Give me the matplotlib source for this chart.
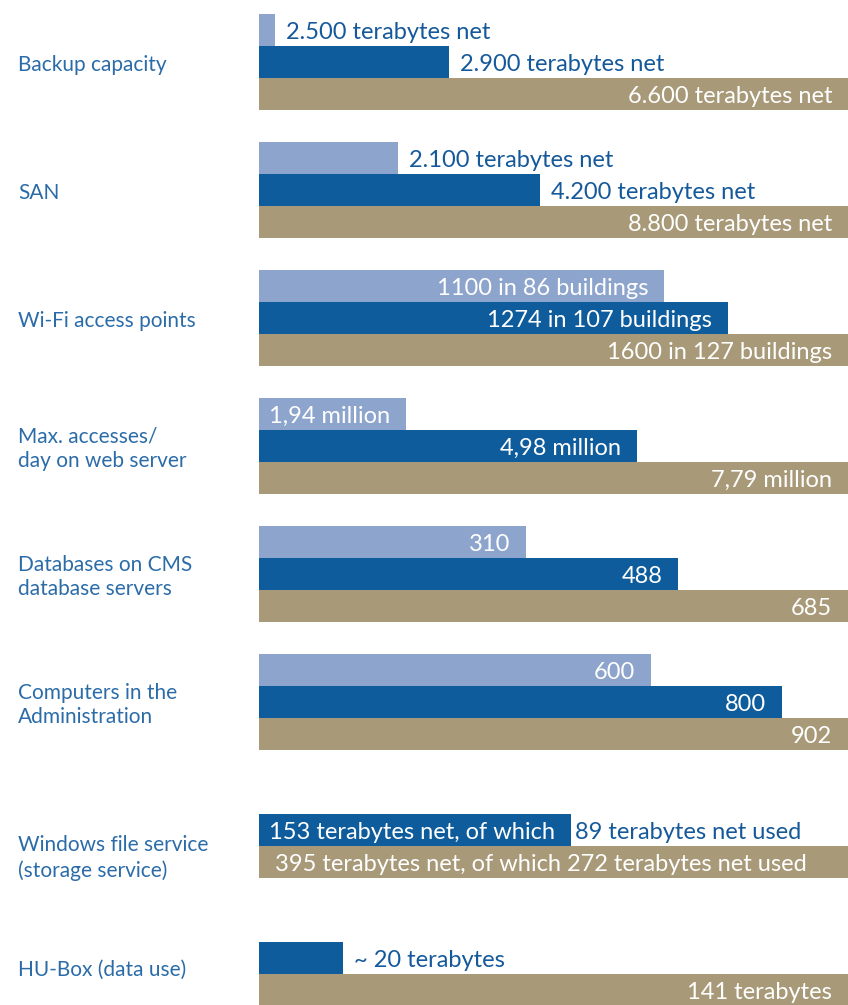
"""Horizontal grouped bars: IT infrastructure figures (three years per row)."""
import matplotlib.pyplot as plt

plt.rcParams['font.family'] = ['Lato', 'DejaVu Sans']

categories = ["Backup capacity", "SAN", "Wi-Fi access points",
              "Max. accesses/\nday on web server", "Databases on CMS\ndatabase servers",
              "Computers in the\nAdministration", "Windows file service\n(storage service)",
              "HU-Box (data use)"]

# bar lengths in % of the longest bar of each row
light_len = [2.7, 23.6, 68.8, 24.9, 45.3, 66.5, None, None]
blue_len = [32.3, 47.7, 79.6, 64.2, 71.2, 88.8, 53.0, 14.2]
tan_len = [100, 100, 100, 100, 100, 100, 100, 100]

light_lab = ["2.500 terabytes net", "2.100 terabytes net", "1100 in 86 buildings",
             "1,94 million", "310", "600", None, None]
blue_lab = ["2.900 terabytes net", "4.200 terabytes net", "1274 in 107 buildings",
            "4,98 million", "488", "800", "153 terabytes net, of which", "~ 20 terabytes"]
tan_lab = ["6.600 terabytes net", "8.800 terabytes net", "1600 in 127 buildings",
           "7,79 million", "685", "902",
           "395 terabytes net, of which 272 terabytes net used", "141 terabytes"]
blue_extra = [None, None, None, None, None, None, "89 terabytes net used", None]

light_pos = ["out", "out", "in", "in", "in", "in", None, None]
blue_pos = ["out", "out", "in", "in", "in", "in", "in", "out"]
tan_pos = ["in", "in", "in", "in", "in", "in", "left", "in"]

C_LIGHT, C_BLUE, C_TAN = '#8DA5CC', '#0E5C9C', '#A89A78'
C_TXT, C_CAT = '#15599A', '#2B6CA8'

W, H = 848, 1005
fig = plt.figure(figsize=(W / 100, H / 100), dpi=100)
x0 = 259
ax = fig.add_axes([x0 / W, 0, (W - x0) / W, 1])
ax.set_xlim(0, 100)
ax.set_ylim(H, 0)  # y in pixels from the top
ax.axis('off')

BH = 32       # bar height
STEP = 128    # row pitch
TOP = 14
PX = 0.72     # points per pixel at dpi 100
FS = 17
DY = -2.5 * PX  # text sits a bit low in the bars
cat_dy = [3, 3, 3, 3, 3, 3, 12, -4]


def label(x, y, txt, mode, gap=None):
    if txt is None:
        return
    if mode == 'out':
        g = 11 if gap is None else gap
        ax.annotate(txt, (x, y), xytext=(g * PX, DY), textcoords='offset points',
                    ha='left', va='center', color=C_TXT, fontsize=FS)
    elif mode == 'in':
        ax.annotate(txt, (x, y), xytext=(-16 * PX, DY), textcoords='offset points',
                    ha='right', va='center', color='white', fontsize=FS)
    else:  # left inside
        ax.annotate(txt, (0, y), xytext=(16 * PX, DY), textcoords='offset points',
                    ha='left', va='center', color='white', fontsize=FS)


for i, cat in enumerate(categories):
    top = TOP + STEP * i
    ys = [top + BH * k + BH / 2 for k in range(3)]
    present = []
    if light_len[i] is not None:
        ax.barh(ys[0], light_len[i], height=BH, color=C_LIGHT, lw=0)
        label(light_len[i], ys[0], light_lab[i], light_pos[i])
        present.append(ys[0])
    ax.barh(ys[1], blue_len[i], height=BH, color=C_BLUE, lw=0)
    label(blue_len[i], ys[1], blue_lab[i], blue_pos[i])
    if blue_extra[i]:
        label(blue_len[i], ys[1], blue_extra[i], 'out', gap=4)
    ax.barh(ys[2], tan_len[i], height=BH, color=C_TAN, lw=0)
    label(tan_len[i], ys[2], tan_lab[i], tan_pos[i])
    present += [ys[1], ys[2]]
    yc = (min(present) + max(present)) / 2 + cat_dy[i]
    fig.text(18 / W, 1 - yc / H, cat, ha='left', va='center', color=C_CAT,
             fontsize=15, linespacing=1.3)

fig.savefig('out.png', dpi=100)
